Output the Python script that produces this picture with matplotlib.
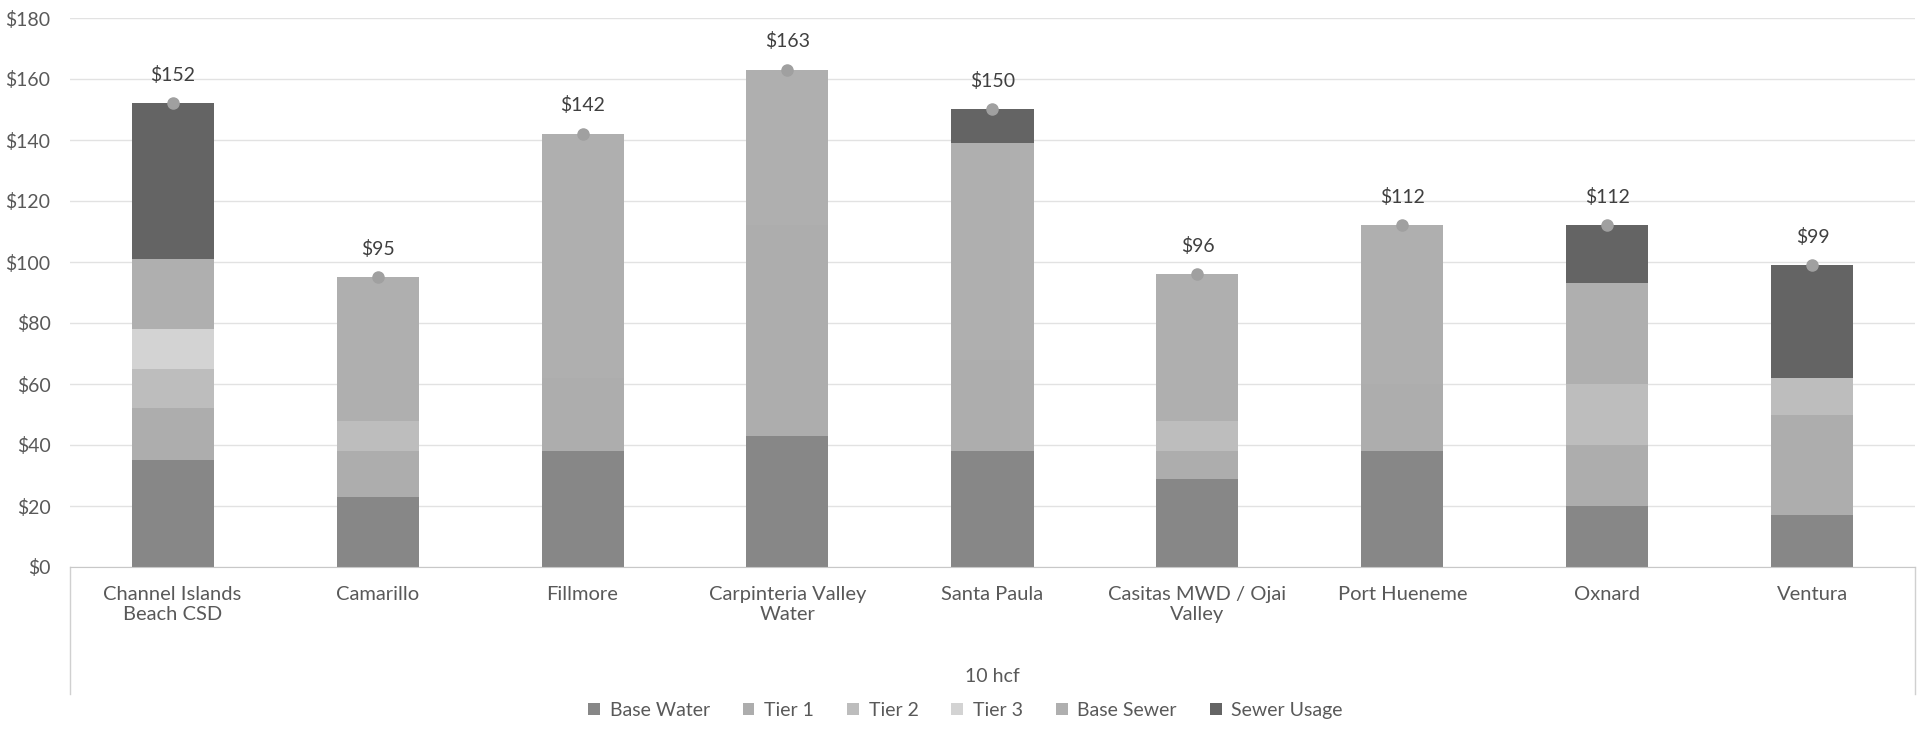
import matplotlib.pyplot as plt
import numpy as np

# values (10 hcf monthly bill, $)
cities = ['Channel Islands\nBeach CSD', 'Camarillo', 'Fillmore', 'Carpinteria Valley\nWater',
          'Santa Paula', 'Casitas MWD / Ojai\nValley', 'Port Hueneme', 'Oxnard', 'Ventura']
base_water = [35, 23, 38, 43, 38, 29, 38, 20, 17]
tier1 = [17, 15, 24, 69, 30, 9, 22, 20, 33]
tier2 = [13, 10, 0, 0, 0, 10, 0, 20, 12]
tier3 = [13, 0, 0, 0, 0, 0, 0, 0, 0]
base_sewer = [23, 47, 80, 51, 71, 48, 52, 33, 0]
sewer_usage = [51, 0, 0, 0, 11, 0, 0, 19, 37]
totals = [152, 95, 142, 163, 150, 96, 112, 112, 99]

series = [('Base Water', base_water, '#9c9c9c', '#878787'),
          ('Tier 1', tier1, '#bfbfbf', '#adadad'),
          ('Tier 2', tier2, '#cdcdcd', '#bdbdbd'),
          ('Tier 3', tier3, '#e2e2e2', '#d3d3d3'),
          ('Base Sewer', base_sewer, '#c2c2c2', '#afafaf'),
          ('Sewer Usage', sewer_usage, '#7c7c7c', '#646464')]

plt.rcParams['font.family'] = ['Lato', 'DejaVu Sans']
plt.rcParams['hatch.linewidth'] = 0.8
txt = '#595959'

fig = plt.figure(figsize=(19.31, 7.33), dpi=100)
ax = fig.add_axes([70 / 1931, 166 / 733, 1845 / 1931, 549 / 733])

x = np.arange(len(cities))
bottom = np.zeros(len(cities))
for name, vals, col, hcol in series:
    ax.bar(x, vals, width=0.4, bottom=bottom, color=col, edgecolor=hcol,
           linewidth=0, hatch='-' * 18, label=name, zorder=2)
    bottom += np.array(vals)

# total markers with labels
ax.plot(x, totals, 'o', color='#a0a0a0', markersize=8, zorder=3)
for xi, t in zip(x, totals):
    ax.annotate(f'${t}', (xi, t), textcoords='offset points', xytext=(0, 14),
                ha='center', va='bottom', fontsize=14, color='#404040')

ax.set_xlim(-0.5, len(cities) - 0.5)
ax.set_ylim(0, 180)
ax.set_yticks(range(0, 181, 20))
ax.set_yticklabels([f'${v}' for v in range(0, 181, 20)])
ax.tick_params(axis='y', length=0, labelsize=14, labelcolor=txt, pad=14)
ax.set_xticks(x)
ax.set_xticklabels(cities, fontsize=14.5, color=txt, linespacing=1.2)
ax.tick_params(axis='x', length=0, pad=14)
ax.grid(axis='y', color='#e2e2e2', linewidth=1, zorder=0)
for s in ['top', 'right', 'left']:
    ax.spines[s].set_visible(False)
ax.spines['bottom'].set_color('#c8c8c8')

# outer level of the category axis
for xe in [-0.5, len(cities) - 0.5]:
    ax.plot([xe, xe], [0, -0.232], transform=ax.get_xaxis_transform(),
            color='#d0d0d0', linewidth=1, clip_on=False)
ax.text(0.5, -0.2, '10 hcf', transform=ax.transAxes, ha='center', va='center',
        fontsize=14, color=txt)

fig.legend(loc='lower center', bbox_to_anchor=(0.5, -0.005), ncol=6, frameon=False,
           fontsize=14, handlelength=0.6, handleheight=0.6, handletextpad=0.5,
           columnspacing=1.7, labelcolor=txt)

fig.savefig('out.png', dpi=100)
